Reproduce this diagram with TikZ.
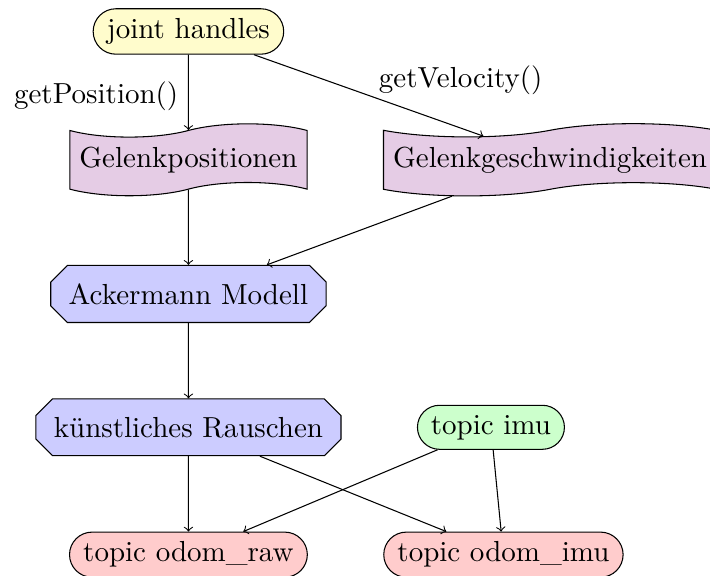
\documentclass[11pt,tikz,border=0pt]{standalone}
\usetikzlibrary{positioning,shapes.misc,shapes.symbols}
\begin{document}
\begin{tikzpicture}[node distance=1cm,
    handle/.style={rounded rectangle,draw,fill=yellow!20},
    jointdata/.style={tape,draw,fill=violet!20},
    model/.style={chamfered rectangle,draw,fill=blue!20},
    topicin/.style={rounded rectangle,draw,fill=green!20},
    topicout/.style={rounded rectangle,draw,fill=red!20}]
    \useasboundingbox (-2.50,2.12) rectangle (6.92,-5.52);
    \node[jointdata] (pos) {Gelenkpositionen};
    \node[jointdata,right=of pos] (vel) {Gelenkgeschwindigkeiten};
    \node[handle,above=of pos] (joints) {joint handles};
    \node[model,below=of pos] (acker) {Ackermann Modell};
    \node[model,below=of acker] (noise) {künstliches Rauschen};
    \node[topicin,right=of noise] (imu) {topic imu};
    \node[topicout,below=of noise] (raw) {topic odom\_raw};
    \node[topicout,right=of raw] (odomimu) {topic odom\_imu};
    \draw[->] (joints) -- node[left,yshift=-1.5pt]{getPosition()} (pos);
    \draw[->] (joints) -- node[above right,yshift=-3.5pt]{getVelocity()} (vel);
    \draw[->] (pos) -- (acker);
    \draw[->] (vel) -- (acker);
    \draw[->] (acker) -- (noise);
    \draw[->] (noise) -- (raw);
    \draw[->] (noise) -- (odomimu);
    \draw[->] (imu) -- (raw);
    \draw[->] (imu) -- (odomimu);
\end{tikzpicture}
\end{document}
